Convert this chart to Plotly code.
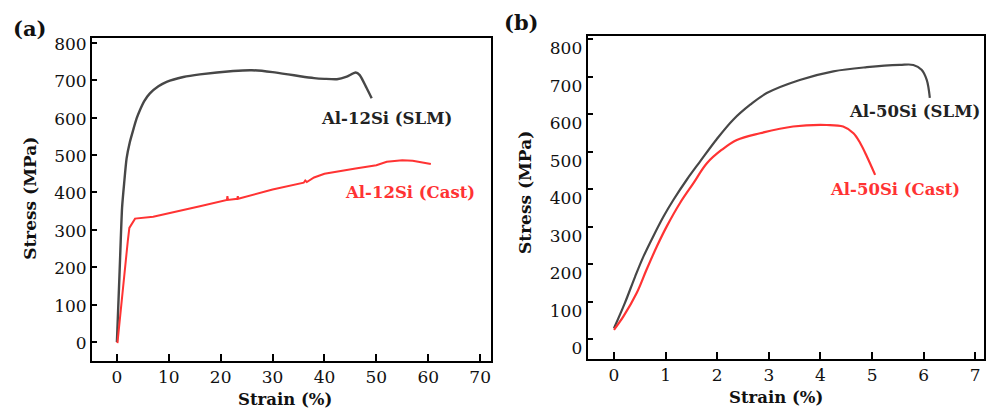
import plotly.graph_objects as go

# ---- data ----
a_slm_strain = [0, 0.5, 1.0, 1.4, 1.87, 2.5, 3.14, 3.8, 4.43, 5.3, 6.36, 8.0, 9.58, 12.8, 16.0, 22.4, 26.0, 30.0, 33.0, 35.3, 38.0, 40.0, 42.4, 44.3, 46.0, 46.8, 48.1, 49.1]
a_slm_stress = [0, 180, 360, 425, 491, 535, 567, 598, 620, 645, 665, 684, 696, 709, 716, 725, 727, 722, 716, 711, 706, 704, 703, 710, 721, 714, 680, 652]

a_cast_strain = [0.1, 0.8, 1.5, 2.1, 2.4, 3.5, 7.0, 10.0, 16.0, 21.2, 21.3, 21.4, 23.2, 23.3, 23.4, 30.0, 36.0, 36.3, 36.6, 38.0, 40.0, 46.0, 50.0, 52.0, 55.0, 57.0, 60.0, 60.5]
a_cast_stress = [-3, 100, 200, 270, 305, 330, 335, 345, 363, 380, 390, 380, 383, 390, 383, 408, 426, 432, 428, 440, 450, 464, 473, 482, 486, 485, 478, 476]

b_slm_strain = [0, 0.21, 0.41, 0.57, 0.76, 0.96, 1.15, 1.41, 1.67, 1.99, 2.31, 2.64, 2.96, 3.6, 4.25, 4.9, 5.54, 5.8, 5.96, 6.06, 6.12]
b_slm_stress = [29, 96, 167, 220, 274, 327, 371, 425, 474, 533, 585, 625, 656, 691, 714, 725, 731, 731, 718, 691, 643]

b_cast_strain = [0, 0.18, 0.44, 0.63, 0.83, 1.02, 1.28, 1.54, 1.80, 2.09, 2.38, 2.83, 3.47, 4.12, 4.44, 4.64, 4.77, 4.9, 5.06]
b_cast_stress = [25, 60, 123, 185, 247, 300, 363, 416, 469, 505, 531, 549, 567, 571, 567, 549, 523, 487, 438]

a_xticks = [0, 10, 20, 30, 40, 50, 60, 70]
b_xticks = [0, 1, 2, 3, 4, 5, 6, 7]
y_ticks = [0, 100, 200, 300, 400, 500, 600, 700, 800]

SLM_COLOR = "#474747"
CAST_COLOR = "#ff3333"
SERIF = "DejaVu Serif"

fig = go.Figure()
fig.add_trace(go.Scatter(x=a_slm_strain, y=a_slm_stress, mode="lines",
                         line=dict(color=SLM_COLOR, width=2.4, shape="spline", smoothing=0.6),
                         xaxis="x", yaxis="y", showlegend=False))
fig.add_trace(go.Scatter(x=a_cast_strain, y=a_cast_stress, mode="lines",
                         line=dict(color=CAST_COLOR, width=2.0),
                         xaxis="x", yaxis="y", showlegend=False))
fig.add_trace(go.Scatter(x=b_slm_strain, y=b_slm_stress, mode="lines",
                         line=dict(color=SLM_COLOR, width=2.2, shape="spline", smoothing=1.0),
                         xaxis="x2", yaxis="y2", showlegend=False))
fig.add_trace(go.Scatter(x=b_cast_strain, y=b_cast_stress, mode="lines",
                         line=dict(color=CAST_COLOR, width=2.2, shape="spline", smoothing=1.0),
                         xaxis="x2", yaxis="y2", showlegend=False))

axis_common = dict(showline=True, linecolor="black", linewidth=2, mirror=True,
                   ticks="inside", tickcolor="black", tickwidth=2,
                   showgrid=False, zeroline=False, automargin=False,
                   tickfont=dict(family=SERIF, size=17, color="#111"))

fig.update_layout(
    width=986, height=414,
    margin=dict(l=0, r=0, t=0, b=0),
    paper_bgcolor="white", plot_bgcolor="white",
    xaxis=dict(domain=[0.0933, 0.498], range=[-4.8, 72.1], tickvals=a_xticks,
               ticklen=7, anchor="y", **axis_common),
    yaxis=dict(domain=[0.128, 0.908], range=[-51, 813], tickvals=y_ticks,
               ticklen=5, anchor="x", ticklabelshift=1, **axis_common),
    xaxis2=dict(domain=[0.596, 0.998], range=[-0.51, 7.17], tickvals=b_xticks,
                ticklen=7, anchor="y2", **axis_common),
    yaxis2=dict(domain=[0.1336, 0.9138], range=[-52, 809], tickvals=y_ticks,
                ticklen=5, anchor="x2", ticklabelshift=9, **axis_common),
)

bold = dict(family=SERIF, size=16.5)
ann = [
    dict(x=51.9, y=599, xref="x", yref="y", text="<b>Al-12Si (SLM)</b>", font=dict(color="#222", **bold)),
    dict(x=56.5, y=401, xref="x", yref="y", text="<b>Al-12Si (Cast)</b>", font=dict(color=CAST_COLOR, **bold)),
    dict(x=5.83, y=606, xref="x2", yref="y2", text="<b>Al-50Si (SLM)</b>", font=dict(color="#222", **bold)),
    dict(x=5.45, y=398, xref="x2", yref="y2", text="<b>Al-50Si (Cast)</b>", font=dict(color=CAST_COLOR, **bold)),
    dict(x=0.0304, y=0.522, xref="paper", yref="paper", text="<b>Stress (MPa)</b>", textangle=-90,
         font=dict(family=SERIF, size=17, color="#111")),
    dict(x=0.5325, y=0.534, xref="paper", yref="paper", text="<b>Stress (MPa)</b>", textangle=-90,
         font=dict(family=SERIF, size=17, color="#111")),
    dict(x=0.289, y=0.034, xref="paper", yref="paper", text="<b>Strain (%)</b>",
         font=dict(family=SERIF, size=16.5, color="#111")),
    dict(x=0.7875, y=0.041, xref="paper", yref="paper", text="<b>Strain (%)</b>",
         font=dict(family=SERIF, size=16.5, color="#111")),
    dict(x=0.0301, y=0.932, xref="paper", yref="paper", text="<b>(a)</b>",
         font=dict(family=SERIF, size=21, color="#111")),
    dict(x=0.529, y=0.9457, xref="paper", yref="paper", text="<b>(b)</b>",
         font=dict(family=SERIF, size=21, color="#111")),
]
for a in ann:
    a.update(showarrow=False, xanchor="center", yanchor="middle")
fig.update_layout(annotations=ann)

fig.write_html("out.html", config={"displayModeBar": False},
               post_script="document.body.style.margin='0';document.body.style.overflow='hidden';")
